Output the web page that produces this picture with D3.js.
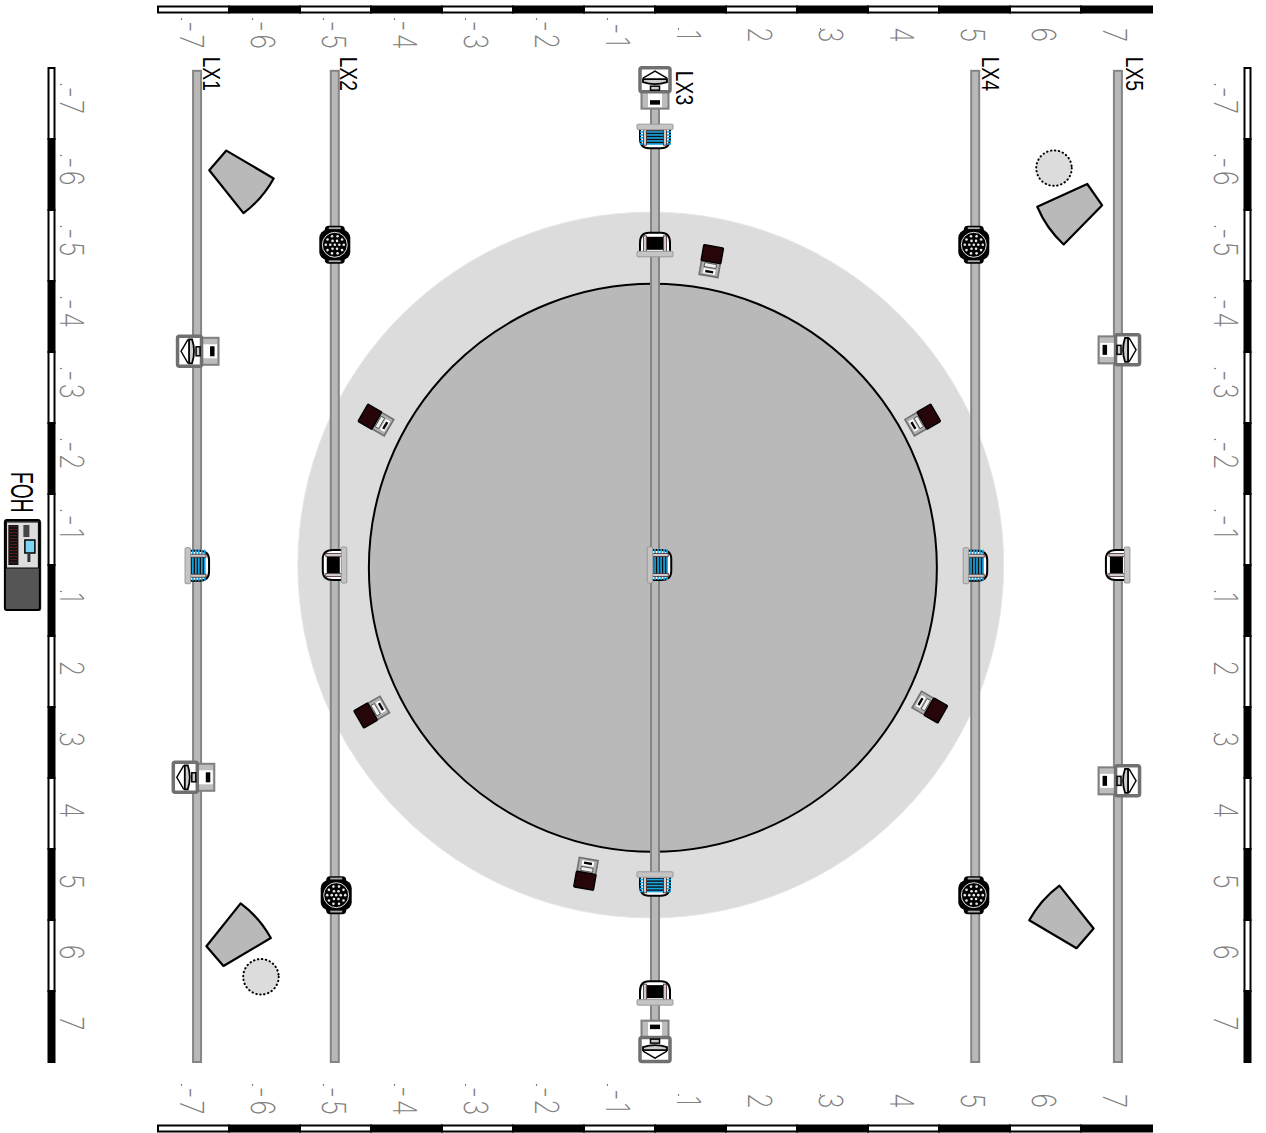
<!DOCTYPE html>
<html>
<head>
<meta charset="utf-8">
<script src="https://cdn.jsdelivr.net/npm/d3@7"></script>
<style>
  html, body { margin: 0; padding: 0; background: #fff; }
  svg { display: block; }
</style>
</head>
<body>
<svg id="plot" width="1266" height="1133"></svg>
<script>
// all positions in metres from stage centre, rotations in degrees
const tickLabels = ['-7','-6','-5','-4','-3','-2','-1','1','2','3','4','5','6','7']
const dottedLabels = ['-7','-6','-5','-4','-3','-2','-1','1','3']

const pipeNames = ['LX1','LX2','LX3','LX4','LX5']
const pipeX = [-6.45, -4.51, 0, 4.51, 6.52]
const pipeLabelX = [-6.37, -4.44, 0.3, 4.61, 6.63]
const pipeLabelY = [-7.16, -7.16, -6.96, -7.16, -7.16]
const pipeStart = -6.96
const pipeEnd = 7

const stageOuter = { x: -0.06, y: 0, r: 4.97 }
const stageInner = { x: -0.03, y: 0.04, r: 4 }

// x, y, rot, blue lens
const washes = [
  [-6.45, 0.01, -90, true],
  [-4.51, 0, 90, false],
  [0.06, 0, -90, true],
  [4.51, 0.01, -90, true],
  [6.52, 0, 90, false],
  [0, -6.04, 0, true],
  [0, -4.51, 180, false],
  [0, 4.49, 0, true],
  [0, 6.03, 180, false]
]
const profiles = [
  [-6.45, -3.01, -90],
  [-6.51, 2.99, -90],
  [6.55, -3.03, 90],
  [6.55, 3.04, 90],
  [0, -6.73, 0],
  [0, 6.72, 180]
]
const gobos = [
  [-4.51, -4.51],
  [-4.49, 4.65],
  [4.49, -4.51],
  [4.49, 4.65]
]
const floorUnits = [
  [0.79, -4.28, 10],
  [-3.93, -2.04, -60],
  [3.77, -2.04, 60],
  [-3.99, 2.07, -120],
  [3.87, 2, 120],
  [-0.97, 4.35, 190]
]
const speakers = [
  [-5.86, -5.44, 41],
  [5.87, -4.99, 145],
  [-5.9, 5.25, -41],
  [5.76, 5, -139]
]
const subs = [
  [5.62, -5.59],
  [-5.55, 5.8]
]
const subR = 0.25
const fohPos = [-8.91, 0]

const x = d3.scaleLinear().domain([-7, 7]).range([158, 1152])
const y = d3.scaleLinear().domain([-7, 7]).range([68, 1062])
const xBand = d3.scaleBand().domain(tickLabels).range([158, 1152])
const yBand = d3.scaleBand().domain(tickLabels).range([68, 1062])
const len = d3.scaleLinear().domain([0, 14]).range([0, 994])

const svg = d3.select('#plot')

// stage
svg.append('circle')
  .attr('cx', x(stageOuter.x)).attr('cy', y(stageOuter.y)).attr('r', len(stageOuter.r))
  .attr('fill', '#dcdcdc').attr('stroke', '#e6e6e6').attr('stroke-width', 1)
svg.append('circle')
  .attr('cx', x(stageInner.x)).attr('cy', y(stageInner.y)).attr('r', len(stageInner.r))
  .attr('fill', '#b9b9b9').attr('stroke', '#000').attr('stroke-width', 2)

// rulers
function ruler(horizontal, band, pos) {
  const g = svg.append('g')
  g.selectAll('rect').data(tickLabels).join('rect')
    .attr('x', d => horizontal ? band(d) : pos)
    .attr('y', d => horizontal ? pos : band(d))
    .attr('width', horizontal ? band.bandwidth() : 6)
    .attr('height', horizontal ? 6 : band.bandwidth())
    .attr('fill', (d, i) => i % 2 ? '#000' : '#fff')
    .attr('stroke', '#000').attr('stroke-width', 2)
}
ruler(true, xBand, 6.5)
ruler(true, xBand, 1125.5)
ruler(false, yBand, 48.5)
ruler(false, yBand, 1244.5)

// tick labels, all turned a quarter clockwise
function tickRow(axis, tx, ty) {
  const g = svg.append('g').attr('transform', `translate(${tx},${ty})`).call(axis.tickSize(0))
  g.select('.domain').remove()
  g.selectAll('.tick text')
    .attr('x', 0).attr('y', 0).attr('dy', null)
    .attr('text-anchor', 'middle')
    .attr('dominant-baseline', 'central')
    .attr('transform', 'rotate(90) scale(0.78,1)')
    .attr('font-family', 'Inter, "Liberation Sans", sans-serif')
    .attr('font-weight', 200)
    .attr('font-size', 33)
    .attr('letter-spacing', 3)
    .attr('fill', '#808080')
    .text(d => d)
  g.selectAll('.tick')
    .filter(d => dottedLabels.includes(d))
    .append('circle')
    .attr('r', 0.7).attr('fill', '#333')
    .attr('cx', -11)
    .attr('cy', d => d.length > 1 ? -17 : -7)
}
tickRow(d3.axisTop(xBand), -1, 36)
tickRow(d3.axisTop(xBand), -1, 1102)
tickRow(d3.axisLeft(yBand), 72, -2)
tickRow(d3.axisLeft(yBand), 1226, -2)

// pipes
pipeNames.forEach((name, i) => {
  const px = x(pipeX[i])
  svg.append('rect')
    .attr('x', px - 4).attr('y', y(pipeStart))
    .attr('width', 8).attr('height', y(pipeEnd) - y(pipeStart))
    .attr('fill', '#b8b8b8').attr('stroke', '#858585').attr('stroke-width', 2)
  svg.append('text')
    .attr('transform', `translate(${x(pipeLabelX[i])},${y(pipeLabelY[i])}) rotate(90) scale(0.84,1)`)
    .attr('font-family', '"Liberation Sans", sans-serif')
    .attr('font-size', 23)
    .attr('fill', '#000')
    .text(name)
})

function place(d) {
  return `translate(${x(d[0])},${y(d[1])}) rotate(${d[2] || 0})`
}

// wash: bar on top, dome below at rot 0
function drawWash(g, blue) {
  g.append('path')
    .attr('d', 'M-15,-8 L-15,2 Q-15,12 -6,12 L6,12 Q15,12 15,2 L15,-8 Z')
    .attr('fill', '#fff').attr('stroke', '#000').attr('stroke-width', 2)
  if (blue) {
    g.append('rect').attr('x', -9).attr('y', -6).attr('width', 18).attr('height', 14).attr('fill', '#111')
    d3.range(-5, 9, 3).forEach(v => {
      g.append('rect').attr('x', -15).attr('y', v).attr('width', 31).attr('height', 1.6).attr('fill', '#18a8e6')
    })
  } else {
    g.append('rect').attr('x', -8).attr('y', -5).attr('width', 16).attr('height', 13).attr('fill', '#000')
  }
  ;[-10, 10].forEach(v => {
    g.append('rect').attr('x', v - 1.5).attr('y', -7).attr('width', 3).attr('height', 16)
      .attr('fill', '#ccc').attr('stroke', '#4a2525').attr('stroke-width', 0.8)
  })
  g.append('rect').attr('x', -18).attr('y', -12).attr('width', 36).attr('height', 5.5).attr('rx', 1)
    .attr('fill', '#c4c4c4').attr('stroke', '#999').attr('stroke-width', 1)
}

// profile: yoke frame and lens pointing up at rot 0
function drawProfile(g) {
  g.append('rect').attr('x', -13.5).attr('y', 3).attr('width', 27).attr('height', 18.5)
    .attr('fill', '#bdbdbd').attr('stroke', '#808080').attr('stroke-width', 2)
  g.append('rect').attr('x', -7).attr('y', 4).attr('width', 14).attr('height', 16).attr('fill', '#fff')
  g.append('rect').attr('x', -5).attr('y', 13).attr('width', 10).attr('height', 4.5).attr('fill', '#000')
  g.append('rect').attr('x', -15).attr('y', -19.5).attr('width', 30).attr('height', 24).attr('rx', 2)
    .attr('fill', '#fff').attr('stroke', '#707070').attr('stroke-width', 3.5)
  g.append('path').attr('d', 'M-12,-9 L0,-16 L12,-9')
    .attr('fill', 'none').attr('stroke', '#000').attr('stroke-width', 1.4)
  g.append('path').attr('d', 'M-12,-8 L12,-8 L12,-5 Q0,-1 -12,-5 Z')
    .attr('fill', '#ccc').attr('stroke', '#000').attr('stroke-width', 1.8)
  g.append('rect').attr('x', -4.5).attr('y', -1).attr('width', 9).attr('height', 4)
    .attr('fill', '#ccc').attr('stroke', '#000').attr('stroke-width', 1.5)
}

function drawGobo(g) {
  g.append('rect').attr('x', -15.5).attr('y', -15).attr('width', 31).attr('height', 30).attr('rx', 8).attr('fill', '#000')
  g.append('rect').attr('x', -10).attr('y', -19).attr('width', 20).attr('height', 38).attr('rx', 4).attr('fill', '#000')
  g.append('rect').attr('x', -6).attr('y', -17.5).attr('width', 12).attr('height', 1.8).attr('fill', '#aaa')
  g.append('rect').attr('x', -6).attr('y', 15.5).attr('width', 12).attr('height', 1.8).attr('fill', '#aaa')
  g.append('circle').attr('r', 12.5).attr('fill', 'none').attr('stroke', '#ddd').attr('stroke-width', 1)
  const dots = [[0, 0]]
  ;[[4.5, 6], [9, 10]].forEach(([r, n]) => {
    d3.range(n).forEach(k => {
      const a = k / n * 2 * Math.PI
      dots.push([r * Math.cos(a), r * Math.sin(a)])
    })
  })
  g.selectAll('circle.dot').data(dots).join('circle')
    .attr('class', 'dot')
    .attr('cx', d => d[0]).attr('cy', d => d[1]).attr('r', 1.3)
    .attr('fill', '#e8e8e8')
}

// floor unit: dark housing on top at rot 0
function drawFloor(g) {
  g.append('rect').attr('x', -9.5).attr('y', 0).attr('width', 19).attr('height', 15)
    .attr('fill', '#b0b0b0').attr('stroke', '#707070').attr('stroke-width', 1.6)
  g.append('rect').attr('x', -6).attr('y', 2.5).attr('width', 12).attr('height', 4).attr('fill', '#eee').attr('stroke', '#444').attr('stroke-width', 0.8)
  g.append('rect').attr('x', -6).attr('y', 8).attr('width', 12).attr('height', 5).attr('fill', '#fff')
  g.append('rect').attr('x', -4).attr('y', 9.5).attr('width', 8).attr('height', 2.4).attr('fill', '#000')
  g.append('rect').attr('x', -10).attr('y', -15).attr('width', 20).attr('height', 16).attr('rx', 1)
    .attr('fill', '#270609').attr('stroke', '#000').attr('stroke-width', 1.4)
}

washes.forEach(d => drawWash(svg.append('g').attr('transform', place(d)), d[3]))
profiles.forEach(d => drawProfile(svg.append('g').attr('transform', place(d))))
gobos.forEach(d => drawGobo(svg.append('g').attr('transform', place(d))))
floorUnits.forEach(d => drawFloor(svg.append('g').attr('transform', place(d))))

// speakers, wide curved end along +x
svg.selectAll('path.speaker').data(speakers).join('path')
  .attr('class', 'speaker')
  .attr('transform', place)
  .attr('d', 'M-28,-13 L26,-23 Q31,0 26,23 L-28,13 Z')
  .attr('fill', '#b9b9b9').attr('stroke', '#000').attr('stroke-width', 2.2).attr('stroke-linejoin', 'round')

svg.selectAll('circle.sub').data(subs).join('circle')
  .attr('class', 'sub')
  .attr('cx', d => x(d[0])).attr('cy', d => y(d[1])).attr('r', len(subR))
  .attr('fill', '#dcdcdc').attr('stroke', '#000').attr('stroke-width', 2)
  .attr('stroke-linecap', 'round').attr('stroke-dasharray', '0.5 3.5')

// FOH desk
const foh = svg.append('g').attr('transform', `translate(${x(fohPos[0])},${y(fohPos[1])})`)
foh.append('rect').attr('x', -16).attr('y', -44).attr('width', 35).attr('height', 90).attr('rx', 2).attr('fill', '#999')
foh.append('rect').attr('x', -17.5).attr('y', -45).attr('width', 35).attr('height', 90).attr('rx', 2)
  .attr('fill', '#555').attr('stroke', '#000').attr('stroke-width', 2)
foh.append('rect').attr('x', -16).attr('y', -43).attr('width', 32).attr('height', 46).attr('fill', '#ddd').attr('stroke', '#000').attr('stroke-width', 1)
foh.append('rect').attr('x', -14).attr('y', -40).attr('width', 10).attr('height', 40).attr('fill', '#111')
d3.range(-39, 0, 3).forEach(v => {
  foh.append('rect').attr('x', -14).attr('y', v).attr('width', 10).attr('height', 0.8).attr('fill', '#5a2020')
})
foh.append('rect').attr('x', 1).attr('y', -40).attr('width', 6).attr('height', 12).attr('fill', '#444')
foh.append('rect').attr('x', 2.5).attr('y', -25).attr('width', 10).attr('height', 13).attr('fill', '#7fd4f5').attr('stroke', '#000').attr('stroke-width', 1.5)
foh.append('rect').attr('x', 5).attr('y', -11).attr('width', 3).attr('height', 8).attr('fill', '#333')
svg.append('text')
  .attr('transform', 'translate(11,472) rotate(90) scale(0.62,1)')
  .attr('font-family', '"Liberation Sans", sans-serif')
  .attr('font-size', 31)
  .attr('fill', '#000')
  .text('FOH')
</script>
</body>
</html>
